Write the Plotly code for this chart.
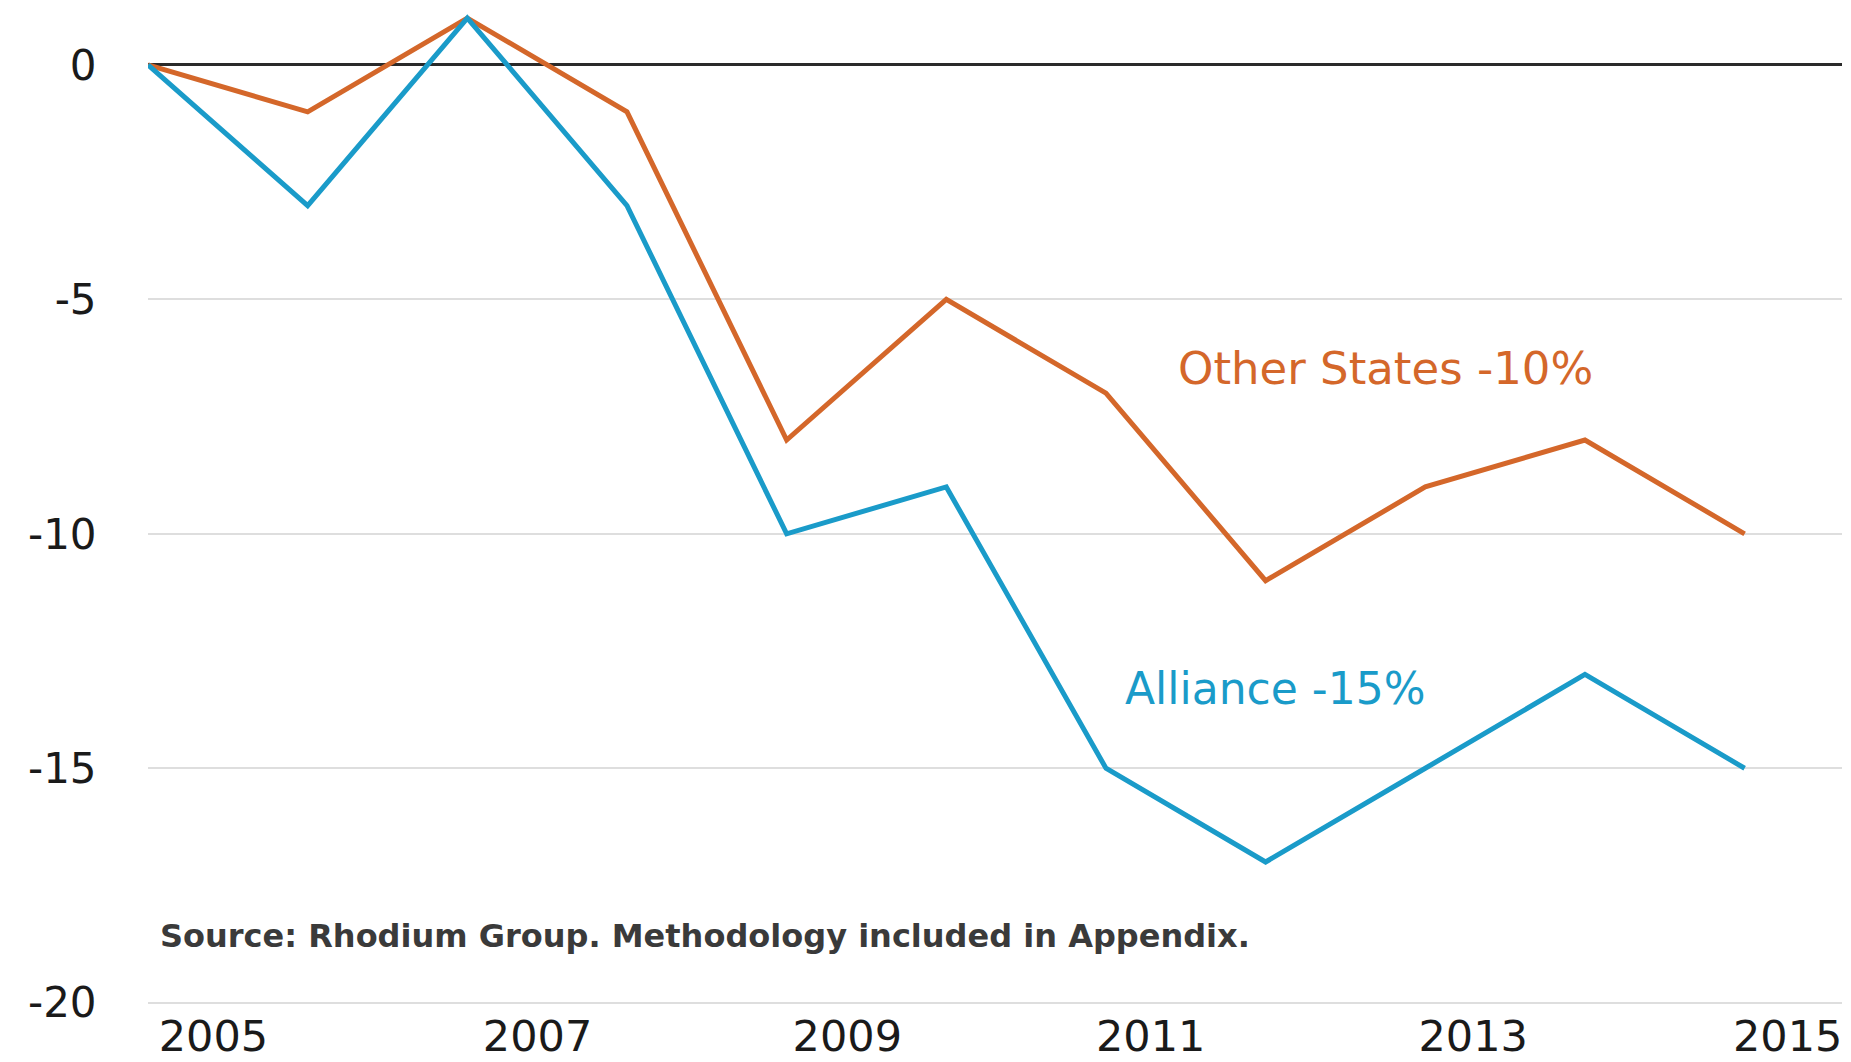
import plotly.graph_objects as go

# percent change since 2005
years = list(range(2005, 2016))
other_states = [0, -1, 1, -1, -8, -5, -7, -11, -9, -8, -10]
alliance = [0, -3, 1, -3, -10, -9, -15, -17, -15, -13, -15]

tick_years = [2005, 2007, 2009, 2011, 2013, 2015]
y_ticks = [0, -5, -10, -15, -20]

orange = '#D4672A'
blue = '#1A9BC9'
font_family = 'DejaVu Sans, sans-serif'

fig = go.Figure()
fig.add_trace(go.Scatter(x=years, y=other_states, mode='lines', name='Other States',
                         line=dict(color=orange, width=5)))
fig.add_trace(go.Scatter(x=years, y=alliance, mode='lines', name='Alliance',
                         line=dict(color=blue, width=5)))

# year labels sit a little to the right of the data points, as in the original
label_nudge = [0.41, 0.44, 0.38, 0.28, 0.30, 0.27]
fig.update_xaxes(
    range=[2005, 2015.61],
    tickvals=[y + d for y, d in zip(tick_years, label_nudge)],
    ticktext=[str(y) for y in tick_years],
    showgrid=False, zeroline=False, showline=False,
    ticks='', ticklabelstandoff=2,
    ticklabeloverflow='allow', automargin=False,
    tickfont=dict(size=43, color='#1a1a1a', family=font_family),
)
fig.update_yaxes(
    range=[-20.05, 1.215],
    tickvals=y_ticks,
    ticktext=[str(v) for v in y_ticks],
    showgrid=True, gridcolor='#dedede', gridwidth=2,
    zeroline=True, zerolinecolor='#2a2a2a', zerolinewidth=3,
    ticks='outside', ticklen=42, tickcolor='rgba(0,0,0,0)',
    automargin=False,
    tickfont=dict(size=42, color='#1a1a1a', family=font_family),
)

fig.add_annotation(x=2012.75, y=-6.47, text='Other States -10%', showarrow=False,
                   font=dict(size=45, color=orange, family=font_family))
fig.add_annotation(x=2012.06, y=-13.3, text='Alliance -15%', showarrow=False,
                   font=dict(size=44, color=blue, family=font_family))
fig.add_annotation(x=2005.06, y=-18.58, text='<b>Source: Rhodium Group. Methodology included in Appendix.</b>',
                   showarrow=False, xanchor='left',
                   font=dict(size=32, color='#3a3a3a', family=font_family))

# page body has an 8px margin, so the figure is sized to fit the window
fig.update_layout(
    width=1843, height=1054,
    margin=dict(l=140, r=9, t=0, b=57),
    paper_bgcolor='white', plot_bgcolor='white',
    showlegend=False,
    font=dict(family=font_family),
)

fig.write_html('out.html')
